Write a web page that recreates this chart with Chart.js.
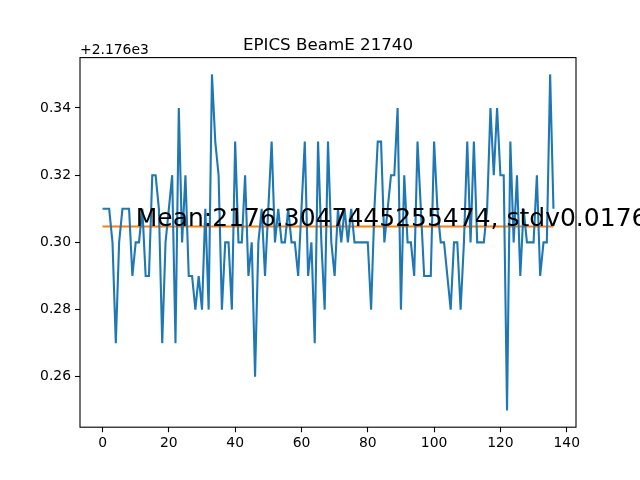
<!DOCTYPE html>
<html>
<head>
<meta charset="utf-8">
<script src="https://cdn.jsdelivr.net/npm/chart.js@4.4.1/dist/chart.umd.min.js"></script>
<style>
html,body{margin:0;padding:0;background:#fff;}
canvas{display:block;}
</style>
</head>
<body>
<canvas id="c" width="640" height="480"></canvas>
<script>
const titleText = "EPICS BeamE 21740";
const yOffsetBase = 2176;
const yOffsetLabel = "+2.176e3";
const beamValues = [
2176.31,2176.31,2176.31,2176.30,2176.27,2176.30,2176.31,2176.31,2176.31,2176.29,
2176.30,2176.30,2176.31,2176.29,2176.29,2176.32,2176.32,2176.31,2176.27,2176.30,
2176.31,2176.32,2176.27,2176.34,2176.30,2176.32,2176.29,2176.29,2176.28,2176.29,
2176.28,2176.31,2176.28,2176.35,2176.33,2176.32,2176.28,2176.30,2176.30,2176.28,
2176.33,2176.30,2176.30,2176.32,2176.29,2176.30,2176.26,2176.30,2176.31,2176.29,
2176.31,2176.33,2176.30,2176.31,2176.30,2176.30,2176.31,2176.30,2176.30,2176.29,
2176.31,2176.33,2176.29,2176.30,2176.27,2176.33,2176.30,2176.28,2176.33,2176.30,
2176.29,2176.31,2176.30,2176.31,2176.30,2176.31,2176.30,2176.30,2176.30,2176.30,
2176.30,2176.28,2176.31,2176.33,2176.33,2176.30,2176.31,2176.32,2176.32,2176.34,
2176.28,2176.32,2176.30,2176.30,2176.29,2176.33,2176.31,2176.29,2176.29,2176.29,
2176.33,2176.31,2176.30,2176.30,2176.29,2176.28,2176.30,2176.30,2176.28,2176.30,
2176.33,2176.30,2176.33,2176.30,2176.30,2176.30,2176.31,2176.34,2176.32,2176.34,
2176.32,2176.32,2176.25,2176.33,2176.30,2176.32,2176.29,2176.31,2176.30,2176.30,
2176.30,2176.32,2176.29,2176.30,2176.30,2176.35,2176.31
];
const meanValue = 2176.3047445255474;
const annotationText = "Mean:2176.3047445255474, stdv0.017603";
const annotationX = 10;
const xTicks = [0,20,40,60,80,100,120,140];
const yTicks = [2176.26,2176.28,2176.30,2176.32,2176.34];

const indices = beamValues.map((v,i)=>i);
const beamData = beamValues.map((v,i)=>({x:indices[i], y:v}));
const meanData = [{x:indices[0], y:meanValue},{x:indices[indices.length-1], y:meanValue}];

const xMin = 0, xMax = indices[indices.length-1];
const yMin = Math.min(...beamValues), yMax = Math.max(...beamValues);
const xPad = (xMax-xMin)*0.05, yPad = (yMax-yMin)*0.05;

const FONT = "'DejaVu Sans', sans-serif";

const decor = {
  id:'decor',
  afterDraw(chart){
    const ctx = chart.ctx, a = chart.chartArea;
    ctx.save();
    ctx.strokeStyle = '#000';
    ctx.lineWidth = 1.1;
    ctx.strokeRect(a.left, a.top, a.right-a.left, a.bottom-a.top);
    ctx.fillStyle = '#000';
    ctx.font = "16.7px " + FONT;
    ctx.textAlign = 'center';
    ctx.textBaseline = 'alphabetic';
    ctx.fillText(titleText, (a.left+a.right)/2, a.top - 8);
    ctx.font = "13.9px " + FONT;
    ctx.textAlign = 'left';
    ctx.fillText(yOffsetLabel, a.left, a.top - 4);
    const xs = chart.scales.x, ys = chart.scales.y;
    ctx.font = "25px " + FONT;
    ctx.fillText(annotationText, xs.getPixelForValue(annotationX), ys.getPixelForValue(meanValue));
    ctx.restore();
  }
};

new Chart(document.getElementById('c'), {
  type:'line',
  data:{
    datasets:[
      {data:beamData, borderColor:'#1f77b4', borderWidth:2.1, pointRadius:0, tension:0, fill:false},
      {data:meanData, borderColor:'#ff7f0e', borderWidth:2.1, pointRadius:0, tension:0, fill:false}
    ]
  },
  options:{
    responsive:false,
    animation:false,
    devicePixelRatio:1,
    layout:{padding:{left:0, right:64, top:57.6, bottom:0}},
    plugins:{legend:{display:false}, tooltip:{enabled:false}, title:{display:false}},
    scales:{
      x:{
        type:'linear', min:xMin-xPad, max:xMax+xPad,
        afterBuildTicks(s){ s.ticks = xTicks.map(v=>({value:v})); },
        afterFit(s){ s.height = 52.8; },
        grid:{display:true, drawOnChartArea:false, drawTicks:true, tickLength:5, tickColor:'#000', tickWidth:1.1},
        border:{display:false},
        ticks:{color:'#000', font:{family:FONT, size:13.9}, padding:3, maxRotation:0, autoSkip:false,
          callback:(v)=>String(v)}
      },
      y:{
        type:'linear', min:yMin-yPad, max:yMax+yPad,
        afterBuildTicks(s){ s.ticks = yTicks.map(v=>({value:v})); },
        afterFit(s){ s.width = 80; },
        grid:{display:true, drawOnChartArea:false, drawTicks:true, tickLength:5, tickColor:'#000', tickWidth:1.1},
        border:{display:false},
        ticks:{color:'#000', font:{family:FONT, size:13.9}, padding:4, autoSkip:false,
          callback:(v)=>(v-yOffsetBase).toFixed(2)}
      }
    }
  },
  plugins:[decor]
});
</script>
</body>
</html>
